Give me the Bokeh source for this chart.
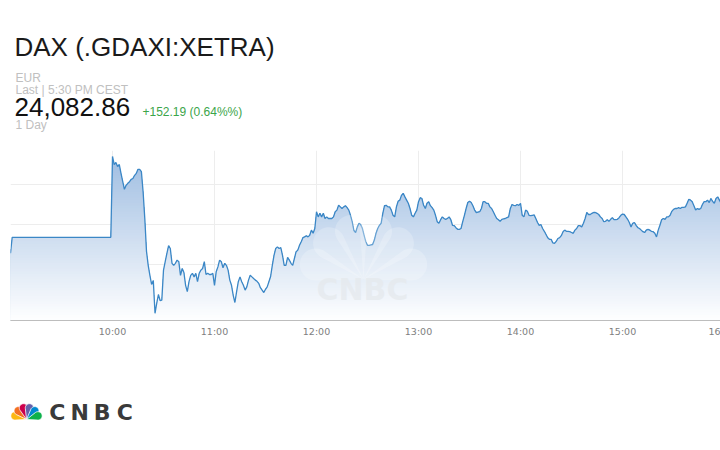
import numpy as np
import pandas as pd
from bokeh.plotting import figure
from bokeh.layouts import column
from bokeh.models import Range1d, Label, FixedTicker, DatetimeTickFormatter, PolyAnnotation
from bokeh.core.properties import value
from bokeh.embed import file_html
from bokeh.resources import INLINE

# ---- quote header -------------------------------------------------------
title_text = "DAX (.GDAXI:XETRA)"
currency = "EUR"
last_stamp = "Last | 5:30 PM CEST"
last_price = "24,082.86"
change_text = "+152.19 (0.64%%)"
period_text = "1 Day"
brand = "CNBC"

# ---- intraday series ------------------------------------------------------
DAY = "2025-08-13"
pre_open_times = ["09:00", "09:01", "09:59"]
pre_open_prices = [23978, 24018, 24018]
session_open = "10:00"          # one-minute bars from here on
session_prices = [
    24220, 24200, 24205, 24195, 24200, 24178, 24158, 24138, 24148, 24153,
    24157, 24163, 24165, 24173, 24178, 24188, 24188, 24182, 24132, 24065,
    23983, 23948, 23923, 23900, 23910, 23828, 23853, 23875, 23860, 23861,
    23936, 23957, 23978, 23997, 23990, 23953, 23948, 23953, 23961, 23957,
    23923, 23940, 23930, 23898, 23882, 23907, 23923, 23928, 23919, 23928,
    23907, 23928, 23936, 23940, 23957, 23925, 23928, 23925, 23925, 23928,
    23898, 23932, 23944, 23961, 23957, 23942, 23953, 23948, 23936, 23911,
    23898, 23873, 23855, 23882, 23907, 23919, 23907, 23898, 23886, 23894,
    23911, 23923, 23919, 23915, 23911, 23908, 23903, 23892, 23886, 23880,
    23888, 23894, 23907, 23920, 23948, 23973, 23990, 23994, 23990, 23992,
    23973, 23948, 23948, 23968, 23961, 23953, 23948, 23965, 23982, 23986,
    23998, 24007, 24017, 24019, 24022, 24019, 24023, 24036, 24028, 24040,
    24082, 24069, 24078, 24069, 24078, 24065, 24069, 24065, 24065, 24065,
    24069, 24082, 24086, 24098, 24094, 24090, 24094, 24097, 24092, 24086,
    24073, 24057, 24035, 24030, 24044, 24053, 24050, 24040, 24023, 24007,
    23998, 23998, 23999, 24000, 24011, 24028, 24040, 24048, 24053, 24078,
    24097, 24098, 24094, 24094, 24086, 24073, 24069, 24094, 24108, 24111,
    24123, 24128, 24119, 24111, 24103, 24090, 24073, 24069, 24078, 24086,
    24107, 24117, 24115, 24098, 24090, 24103, 24107, 24097, 24092, 24086,
    24073, 24057, 24053, 24062, 24069, 24065, 24063, 24065, 24069, 24062,
    24048, 24047, 24042, 24038, 24038, 24040, 24057, 24073, 24090, 24105,
    24108, 24105, 24097, 24086, 24080, 24081, 24082, 24090, 24107, 24107,
    24103, 24103, 24094, 24090, 24082, 24073, 24065, 24062, 24058, 24063,
    24064, 24065, 24067, 24069, 24090, 24100, 24098, 24097, 24100, 24098,
    24103, 24073, 24069, 24086, 24083, 24073, 24072, 24073, 24074, 24065,
    24055, 24048, 24050, 24040, 24033, 24025, 24017, 24013, 24013, 24004,
    24003, 24008, 24015, 24017, 24022, 24032, 24036, 24033, 24033, 24032,
    24030, 24028, 24036, 24040, 24047, 24047, 24044, 24053, 24065, 24080,
    24075, 24075, 24078, 24080, 24080, 24078, 24075, 24069, 24065, 24057,
    24058, 24062, 24058, 24063, 24067, 24062, 24062, 24063, 24067, 24073,
    24076, 24075, 24069, 24063, 24055, 24044, 24053, 24055, 24048, 24042,
    24040, 24036, 24032, 24030, 24036, 24038, 24036, 24033, 24032, 24028,
    24019, 24036, 24048, 24062, 24065, 24063, 24069, 24069, 24073, 24083,
    24088, 24090, 24090, 24092, 24090, 24093, 24093, 24094, 24103, 24113,
    24111, 24107, 24097, 24086, 24090, 24088, 24090, 24100, 24107, 24107,
    24111, 24105, 24115, 24108, 24103, 24115, 24119, 24111, 24103, 24098,
]

hour_ticks = ["10:00", "11:00", "12:00", "13:00", "14:00", "15:00"]
edge_label = "16"          # next hour label, cut by the right edge of the page
price_grid = [23950, 24050, 24150]
view_start, view_end = "09:00", "15:57:38"
price_floor, price_ceiling = 23810, 24235

# ---- page geometry (pixels from the top-left corner of the page) ---------
W = 720
HEADER_H = 150            # quote block above the chart
FRAME_H = 170             # plotting area
AXIS_H = 20               # time labels under the plotting area
FOOTER_H = 450 - HEADER_H - FRAME_H - AXIS_H
LEFT = 10
FRAME_BOTTOM = HEADER_H + FRAME_H
BASELINE_LIFT = 0.32      # text is placed a little lower than its nominal baseline


def stamp(hhmm):
    return pd.Timestamp(f"{DAY} {hhmm}")


def ms(ts):
    return ts.value // 10**6


def blank_panel(top, height):
    """A figure whose data space is page pixels; y counts down from the page top."""
    f = figure(width=W, height=height, title=None,
               x_range=Range1d(LEFT, W), y_range=Range1d(top + height, top),
               x_axis_location=None, y_axis_location=None,
               toolbar_location=None, output_backend="svg",
               min_border_left=LEFT, min_border_right=0,
               min_border_top=0, min_border_bottom=0)
    f.grid.visible = False
    f.outline_line_color = None
    f.background_fill_color = "white"
    f.border_fill_color = "white"
    return f


def write(f, s, x, y, size, color, font="Liberation Sans", align="left", bold=False):
    f.text(x=[x], y=[y - BASELINE_LIFT * size], text=[s], text_font=value(font),
           text_font_size=value(f"{size}px"), text_color=color,
           text_align=align, text_baseline="alphabetic",
           text_font_style="bold" if bold else "normal")


# ---- peacock feathers -------------------------------------------------------
FEATHER_ANGLES = [162.5, 133.5, 104.5, 75.5, 46.5, 17.5]
FEATHER_COLORS = ["#fcb711", "#f37021", "#cc004c", "#6460aa", "#0089d0", "#0db14b"]


def feather(bx, by, angle, reach, radius, n=28):
    phi = np.arcsin(radius / reach)
    t = np.linspace(np.pi / 2 + phi, -(np.pi / 2 + phi), n)
    u = np.concatenate([[0.0], reach + radius * np.cos(t)])
    v = np.concatenate([[0.0], radius * np.sin(t)])
    a = np.deg2rad(angle)
    px = bx + u * np.cos(a) - v * np.sin(a)
    py = by - (u * np.sin(a) + v * np.cos(a))
    return px, py


# ---- header ---------------------------------------------------------------
head = blank_panel(0, HEADER_H)
write(head, title_text, 14, 55, 26, "#1a1a1a")
write(head, currency, 15, 81, 12, "#c0c0c0")
write(head, last_stamp, 15, 93, 12, "#c0c0c0")
write(head, last_price, 14, 114.5, 26, "#111111")
write(head, change_text, 142, 115, 12, "#3ba54a")
write(head, period_text, 15, 128, 12, "#c0c0c0")

# ---- price chart ----------------------------------------------------------
times = pd.DatetimeIndex([stamp(t) for t in pre_open_times]).append(
    pd.date_range(stamp(session_open), periods=len(session_prices), freq="min"))
prices = np.array(pre_open_prices + session_prices, dtype=float)

x_start, x_end = stamp(view_start), stamp(view_end)
p = figure(width=W, height=FRAME_H + AXIS_H, title=None,
           x_axis_type="datetime", y_axis_location=None,
           x_range=Range1d(x_start, x_end),
           y_range=Range1d(price_floor, price_ceiling),
           toolbar_location=None, output_backend="svg",
           min_border_left=LEFT, min_border_right=0,
           min_border_top=0, min_border_bottom=AXIS_H)
p.outline_line_color = None
p.background_fill_color = "white"
p.border_fill_color = "white"

tick_ms = [ms(stamp(t)) for t in hour_ticks]
edge_ms = ms(x_end) - 1
p.xaxis.ticker = FixedTicker(ticks=tick_ms + [edge_ms])
p.xaxis.formatter = DatetimeTickFormatter(hours="%H:%M", hourmin="%H:%M", minutes="%H:%M")
p.xaxis.major_label_overrides = {edge_ms: edge_label}
p.xaxis.axis_line_color = "#bdbdbd"
p.xaxis.major_tick_line_color = None
p.xaxis.minor_tick_line_color = None
p.xaxis.major_tick_in = 0
p.xaxis.major_tick_out = 0
p.xaxis.major_label_standoff = 5
p.xaxis.major_label_text_font = "DejaVu Sans"
p.xaxis.major_label_text_font_size = "9.5px"
p.xaxis.major_label_text_color = "#808080"

p.xgrid.ticker = FixedTicker(ticks=tick_ms)
p.xgrid.grid_line_color = "#ededed"
p.ygrid.ticker = FixedTicker(ticks=price_grid)
p.ygrid.grid_line_color = "#ededed"

# gradient area under the price line: stacked bands, darkest (tallest) first
top_rgb = np.array([160, 190, 226])
low_rgb = np.array([255, 255, 255])
peak = prices.max()
n_bands = 60
for cap in np.linspace(price_floor, peak, n_bands + 1)[1:][::-1]:
    f = (cap - price_floor) / (peak - price_floor)
    r, g, b = (low_rgb + (top_rgb - low_rgb) * f).round().astype(int)
    p.varea(x=times, y1=price_floor, y2=np.minimum(prices, cap),
            fill_color=f"#{r:02x}{g:02x}{b:02x}")

# faint watermark inside the plotting area (screen units are frame-relative)
for ang in FEATHER_ANGLES:
    fx, fy = feather(363, 279, ang, 50, 16)
    p.add_layout(PolyAnnotation(xs=list(fx - LEFT), ys=list(FRAME_BOTTOM - fy),
                                xs_units="screen", ys_units="screen",
                                fill_color="white", fill_alpha=0.22,
                                line_color=None, level="glyph"))
mark_size = 30
p.add_layout(Label(x=362 - LEFT, y=FRAME_BOTTOM - 299 + BASELINE_LIFT * mark_size,
                   x_units="screen", y_units="screen",
                   text=brand, text_font="DejaVu Sans", text_font_size=f"{mark_size}px",
                   text_font_style="bold", text_color="#e5e9ed", text_alpha=0.75,
                   text_align="center", text_baseline="alphabetic", level="glyph"))

p.line(times, prices, line_color="#3b87c6", line_width=1.3)

# ---- footer with the brand mark -------------------------------------------
foot = blank_panel(HEADER_H + FRAME_H + AXIS_H, FOOTER_H)
xs, ys = [], []
for ang in FEATHER_ANGLES:
    fx, fy = feather(26, 419, ang, 12, 4.2)
    xs.append(list(fx))
    ys.append(list(fy))
foot.patches(xs, ys, fill_color=FEATHER_COLORS, line_color="white", line_width=0.8)
for ch, cx in zip(brand, [56.7, 79.2, 101.7, 124.2]):
    write(foot, ch, cx, 419, 22, "#3a3a3a", font="DejaVu Sans", align="center", bold=True)

page = column(head, p, foot, spacing=0)
open("out.html", "w").write(file_html(page, INLINE))
